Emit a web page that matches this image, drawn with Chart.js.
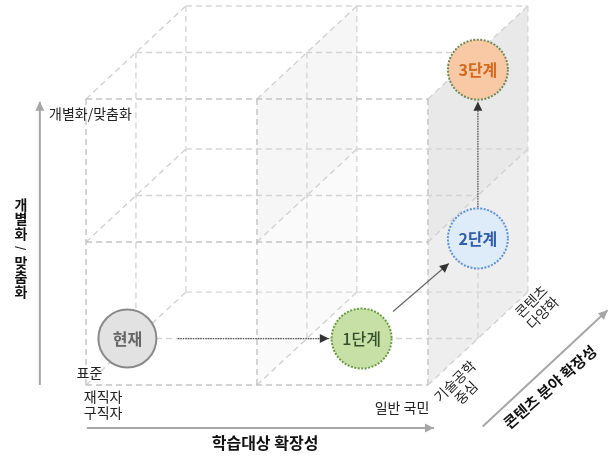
<!DOCTYPE html>
<html>
<head>
<meta charset="utf-8">
<script src="https://cdn.jsdelivr.net/npm/chart.js"></script>
<style>
  body { margin: 0; background: #fff; }
  #wrap { width: 614px; height: 459px; }
</style>
</head>
<body>
<div id="wrap"><canvas id="cubeChart"></canvas></div>
<script>
// 데이터
var stageNames = ['현재', '1단계', '2단계', '3단계'];
var stageLearner = [-0.05, 1.32, 2, 2];     // 학습대상 확장성
var stagePersonal = [0, 0, 0.7, 1.88];      // 개별화/맞춤화
var stageContent = [1, 1, 1, 1];            // 콘텐츠 분야 확장성
var levels = [0, 1, 2];
var axisTitles = ['학습대상 확장성', '개별화/맞춤화', '콘텐츠 분야 확장성'];
var learnerTicks = ['재직자\n구직자', '일반 국민'];
var personalTicks = ['표준', '개별화/맞춤화'];
var contentTicks = ['기술공학\n중심', '콘텐츠\n다양화'];

var FONT = '"Noto Sans CJK KR", "Noto Sans", sans-serif';

// 사선 투영: 깊이 1칸 = 오른쪽 위로 밀기
var DX = 0.292, DY = 0.325;
function proj(u, v, w) { return {x: u + DX * w, y: v + DY * w}; }

function stagePt(i) { return proj(stageLearner[i], stagePersonal[i], stageContent[i]); }

// 격자 (점선 큐브)
var gridSets = [];
function edge(a, b, color) {
  gridSets.push({
    type: 'scatter', data: [a, b], showLine: true,
    borderColor: color, borderWidth: 1.4, borderDash: [6, 4],
    pointRadius: 0, order: 5
  });
}
levels.forEach(function (v) {
  levels.forEach(function (w) {
    var c = w == 0 ? '#c4c4c4' : (w == 1 ? '#d3d3d3' : '#d6d6d6');
    edge(proj(0, v, w), proj(2, v, w), c);   // 가로
  });
});
levels.forEach(function (u) {
  levels.forEach(function (w) {
    var c = w == 0 ? '#c4c4c4' : (w == 1 ? '#d6d6d6' : '#d8d8d8');
    edge(proj(u, 0, w), proj(u, 2, w), c);   // 세로
  });
});
levels.forEach(function (u) {
  levels.forEach(function (v) {
    edge(proj(u, v, 0), proj(u, v, 2), '#d2d2d2');  // 깊이
  });
});

// 단계 사이 화살표
function between(i, j, t0, t1) {
  var a = stagePt(i), b = stagePt(j);
  return [
    {x: a.x + (b.x - a.x) * t0, y: a.y + (b.y - a.y) * t0},
    {x: a.x + (b.x - a.x) * t1, y: a.y + (b.y - a.y) * t1}
  ];
}
var arrowSets = [
  {type: 'scatter', data: between(0, 1, 0.215, 0.86), showLine: true, borderColor: '#555', borderWidth: 1.3, borderDash: [1.5, 1], pointRadius: 0, arrow: '#333', order: 2},
  {type: 'scatter', data: between(1, 2, 0.27, 0.75), showLine: true, borderColor: '#666', borderWidth: 1.2, pointRadius: 0, arrow: '#333', order: 2},
  {type: 'scatter', data: between(2, 3, 0.17, 0.81), showLine: true, borderColor: '#555', borderWidth: 1.3, borderDash: [1.5, 1], pointRadius: 0, arrow: '#333', order: 2},
  // 축 화살표
  {type: 'scatter', data: [proj(-0.27, 0, 0), proj(-0.27, 1.98, 0)], showLine: true, borderColor: '#a6a6a6', borderWidth: 2, pointRadius: 0, arrow: '#a6a6a6', order: 3},
  {type: 'scatter', data: [proj(0.005, -0.3, 0), proj(2.035, -0.3, 0)], showLine: true, borderColor: '#a6a6a6', borderWidth: 2, pointRadius: 0, arrow: '#a6a6a6', order: 3},
  {type: 'scatter', data: [proj(2.32, -0.29, 0), proj(2.32, -0.29, 2.5)], showLine: true, borderColor: '#a6a6a6', borderWidth: 2, pointRadius: 0, arrow: '#a6a6a6', order: 3}
];

var stageSets = [
  {type: 'bubble', data: [Object.assign({r: 29}, stagePt(0))],
   backgroundColor: '#e2e2e2', borderColor: '#8a8a8a', borderWidth: 2, order: 0},
  {type: 'bubble', data: [1, 2, 3].map(function (i) { return Object.assign({r: 30}, stagePt(i)); }),
   backgroundColor: ['#c6e0a6', '#deebf8', '#f9c9a6'],
   borderColor: ['#6b9a45', '#5b93d3', '#6f8a55'], borderWidth: 2, dotted: [2, 1.5], order: 0}
];

// 면 음영
var faces = [
  {pts: [proj(2, 1, 0), proj(2, 2, 0), proj(2, 2, 2), proj(2, 1, 2)], color: '#e9e9e9'},
  {pts: [proj(2, 0, 0), proj(2, 1, 0), proj(2, 1, 2), proj(2, 0, 2)], color: '#eeeeee'},
  {pts: [proj(1, 1, 0), proj(1, 2, 0), proj(1, 2, 2), proj(1, 1, 2)], color: '#f6f6f6'},
  {pts: [proj(1, 0, 0), proj(1, 1, 0), proj(1, 1, 2), proj(1, 0, 2)], color: '#fafafa'}
];

// 글자 위치
var textItems = [
  {t: personalTicks[0], p: proj(0.02, 0.085, 0), font: '14px', color: '#222'},
  {t: personalTicks[1], p: proj(-0.216, 1.9, 0), font: '14px', color: '#222', align: 'left'},
  {t: learnerTicks[0], p: proj(0.1, -0.14, 0), font: '14px', color: '#222'},
  {t: learnerTicks[1], p: proj(1.848, -0.155, 0), font: '14px', color: '#222'},
  {t: axisTitles[0], p: proj(1.047, -0.406, 0), font: 'bold 16px', color: '#111'},
  {t: contentTicks[0], p: proj(2.19, -0.014, 0), font: '14px', color: '#222', rot: -45},
  {t: contentTicks[1], p: proj(2.637, 0.545, 0), font: '14px', color: '#222', rot: -45},
  {t: axisTitles[2], p: proj(2.713, -0.014, 0), font: 'bold 15px', color: '#111', rot: -41}
];

function toPx(chart, p) {
  return {x: chart.scales.x.getPixelForValue(p.x), y: chart.scales.y.getPixelForValue(p.y)};
}

var cubePlugin = {
  id: 'cube',
  beforeDatasetsDraw: function (chart) {
    var ctx = chart.ctx;
    faces.forEach(function (f) {
      ctx.beginPath();
      f.pts.forEach(function (p, k) {
        var q = toPx(chart, p);
        if (k == 0) ctx.moveTo(q.x, q.y); else ctx.lineTo(q.x, q.y);
      });
      ctx.closePath();
      ctx.fillStyle = f.color;
      ctx.fill();
    });
  },
  beforeDatasetDraw: function (chart, args) {
    var ds = chart.data.datasets[args.index];
    if (ds.dotted) chart.ctx.setLineDash(ds.dotted);
  },
  afterDatasetDraw: function (chart, args) {
    chart.ctx.setLineDash([]);
  },
  afterDatasetsDraw: function (chart) {
    var ctx = chart.ctx;
    // 화살촉
    chart.data.datasets.forEach(function (ds, i) {
      if (!ds.arrow) return;
      var pts = chart.getDatasetMeta(i).data;
      var a = pts[pts.length - 2], b = pts[pts.length - 1];
      var ang = Math.atan2(b.y - a.y, b.x - a.x);
      ctx.save();
      ctx.translate(b.x, b.y);
      ctx.rotate(ang);
      ctx.beginPath();
      ctx.moveTo(0, 0);
      ctx.lineTo(-9, -4.5);
      ctx.lineTo(-9, 4.5);
      ctx.closePath();
      ctx.fillStyle = ds.arrow;
      ctx.fill();
      ctx.restore();
    });
    // 단계 이름
    var stageFonts = ['bold 16px', '500 16px', 'bold 16px', 'bold 16px'];
    var stageColors = ['#666666', '#34502a', '#2f5da8', '#d2691e'];
    stageNames.forEach(function (n, i) {
      var q = toPx(chart, stagePt(i));
      ctx.font = stageFonts[i] + ' ' + FONT;
      ctx.fillStyle = stageColors[i];
      ctx.textAlign = 'center';
      ctx.textBaseline = 'middle';
      ctx.fillText(n, q.x, q.y);
    });
    // 라벨
    textItems.forEach(function (it) {
      var q = toPx(chart, it.p);
      var lines = it.t.split('\n');
      ctx.save();
      ctx.translate(q.x, q.y);
      if (it.rot) ctx.rotate(it.rot * Math.PI / 180);
      ctx.font = it.font + ' ' + FONT;
      ctx.fillStyle = it.color;
      ctx.textAlign = it.align || 'center';
      ctx.textBaseline = 'middle';
      var lh = 16;
      lines.forEach(function (l, k) {
        ctx.fillText(l, 0, (k - (lines.length - 1) / 2) * lh);
      });
      ctx.restore();
    });
    // 세로축 제목 (한 글자씩)
    var q = toPx(chart, proj(-0.38, 0.958, 0));
    var chars = axisTitles[1].split('');
    ctx.font = 'bold 14px ' + FONT;
    ctx.fillStyle = '#111';
    ctx.textAlign = 'center';
    ctx.textBaseline = 'middle';
    chars.forEach(function (c, k) {
      var y = q.y + (k - (chars.length - 1) / 2) * 14.5;
      if (c == '/') {
        ctx.save();
        ctx.translate(q.x, y);
        ctx.rotate(Math.PI / 2);
        ctx.font = 'bold 11px ' + FONT;
        ctx.fillText(c, 0, 0);
        ctx.restore();
      } else {
        ctx.fillText(c, q.x, y);
      }
    });
  }
};

new Chart('cubeChart', {
  type: 'scatter',
  data: { datasets: stageSets.concat(arrowSets, gridSets) },
  options: {
    responsive: true,
    maintainAspectRatio: false,
    animation: false,
    layout: { padding: 0, autoPadding: false },
    plugins: { legend: { display: false }, tooltip: { enabled: false } },
    scales: {
      x: { type: 'linear', min: -0.503, max: 3.088, display: false },
      y: { type: 'linear', min: -0.517, max: 2.692, display: false }
    }
  },
  plugins: [cubePlugin]
});
</script>
</body>
</html>
